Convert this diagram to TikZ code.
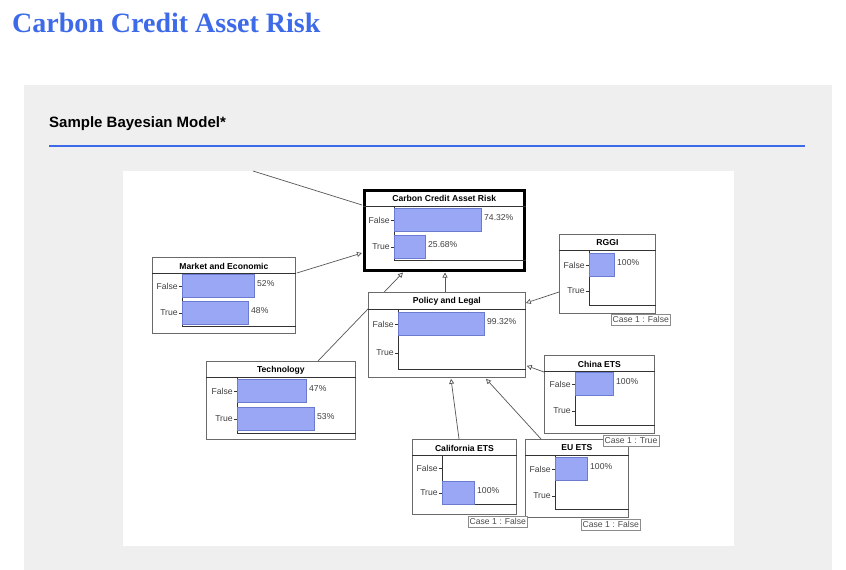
\documentclass[tikz,border=0pt]{standalone}
\usepackage{fontspec}
\setmainfont{Liberation Sans}
\newfontfamily\headfont{Liberation Serif}
\usetikzlibrary{arrows.meta, calc}
\definecolor{headblue}{HTML}{3D6AE8}
\definecolor{panelgray}{HTML}{EFEFEF}
\definecolor{barblue}{HTML}{9AA7F5}
\definecolor{baredge}{HTML}{6B7BD0}
\definecolor{edgegray}{HTML}{555555}
\definecolor{framegray}{HTML}{6A6A6A}
\pgfdeclarelayer{back}
\pgfdeclarelayer{edges}
\pgfsetlayers{back,edges,main}
\tikzstyle{bnbox} = [draw=framegray, fill=white, anchor=north west, inner sep=0pt, line width=0.8pt]
\tikzstyle{bntitle} = [font=\fontsize{8.6}{9}\selectfont\bfseries, inner sep=0pt]
\tikzstyle{inner} = [draw=black!80, line width=0.7pt]
\tikzstyle{statelabel} = [font=\fontsize{8.6}{10}\selectfont, text=black!75, anchor=east, inner sep=1pt]
\tikzstyle{pct} = [font=\fontsize{8.6}{10}\selectfont, text=black!75, anchor=west, inner sep=3pt]
\tikzstyle{bar} = [fill=barblue, draw=baredge, line width=0.6pt]
\tikzstyle{link} = [draw=edgegray, line width=0.7pt, -{Triangle[open, length=5pt, width=5pt, fill=white]}]
\tikzstyle{casebox} = [draw=black!45, fill=white, anchor=north west, inner sep=1.5pt, font=\fontsize{8.6}{10}\selectfont, text=black!70, minimum height=11pt]
% node frame: name, title, title row height, axis offset, bottom line offset
\newcommand{\bnframe}[5]{%
        \node[bntitle] at ($(#1.north west)!0.5!(#1.north east)+(0,#3/2+1)$) {#2};
        \draw[inner] ($(#1.north west)+(0,#3)$) -- ($(#1.north east)+(0,#3)$);
        \draw[inner] ($(#1.north west)+(#4,#3)$) -- ($(#1.north west)+(#4,#5)$) -- ($(#1.north east)+(0,#5)$);
}
% state row: name, axis offset, row offset, label
\newcommand{\bnstate}[4]{%
        \draw[inner] ($(#1.north west)+(#2,#3)$) -- ++(-3,0) node[statelabel] {#4};
}
% belief bar: name, axis offset, row offset, length, percent
\newcommand{\bnbar}[5]{%
        \draw[bar] ($(#1.north west)+(#2,#3-11.5)$) rectangle ++(#4,23);
        \node[pct] at ($(#1.north west)+(#2+#4,#3-2)$) {#5};
}

\begin{document}
\begin{tikzpicture}[x=1pt, y=-1pt]
        \useasboundingbox (0,0) rectangle (846,570);
        \begin{pgfonlayer}{back}
            \fill[panelgray] (24,85) rectangle (832,570);
            \fill[white] (123,171) rectangle (734,546);
        \end{pgfonlayer}
        % Heading
        \node[anchor=base west, inner sep=0pt, text=headblue, font=\headfont\fontsize{28}{30}\selectfont\bfseries] (head) at (12,32) {Carbon Credit Asset Risk};
        \node[anchor=base west, inner sep=0pt, font=\fontsize{15}{18}\selectfont\bfseries] (sub) at (49,127) {Sample Bayesian Model*};
        \draw[headblue, line width=1.2pt] (49,146) -- (805,146);

        % Network nodes
        \node[bnbox, draw=black, line width=2.5pt, minimum width=160pt, minimum height=80pt] (carbon) at (363,189) {};
        \bnframe{carbon}{Carbon Credit Asset Risk}{17}{31}{71}
        \bnstate{carbon}{31}{31}{False}
        \bnstate{carbon}{31}{58}{True}
        \bnbar{carbon}{31}{31}{87}{74.32\%}
        \bnbar{carbon}{31}{58}{31}{25.68\%}

        \node[bnbox, minimum width=143pt, minimum height=76pt] (market) at (152,257) {};
        \bnframe{market}{Market and Economic}{16}{30}{69}
        \bnstate{market}{30}{29}{False}
        \bnstate{market}{30}{56}{True}
        \bnbar{market}{30}{29}{72}{52\%}
        \bnbar{market}{30}{56}{66}{48\%}

        \node[bnbox, minimum width=157pt, minimum height=85pt] (policy) at (368,292) {};
        \bnframe{policy}{Policy and Legal}{17}{30}{77}
        \bnstate{policy}{30}{32}{False}
        \bnstate{policy}{30}{61}{True}
        \bnbar{policy}{30}{32}{86}{99.32\%}

        \node[bnbox, minimum width=96pt, minimum height=79pt] (rggi) at (559,234) {};
        \bnframe{rggi}{RGGI}{16}{30}{71}
        \bnstate{rggi}{30}{31}{False}
        \bnstate{rggi}{30}{57}{True}
        \bnbar{rggi}{30}{31}{25}{100\%}

        \node[bnbox, minimum width=149pt, minimum height=78pt] (tech) at (206,361) {};
        \bnframe{tech}{Technology}{16}{31}{72}
        \bnstate{tech}{31}{30}{False}
        \bnstate{tech}{31}{58}{True}
        \bnbar{tech}{31}{30}{69}{47\%}
        \bnbar{tech}{31}{58}{77}{53\%}

        \node[bnbox, minimum width=110pt, minimum height=78pt] (china) at (544,355) {};
        \bnframe{china}{China ETS}{16}{31}{70}
        \bnstate{china}{31}{29}{False}
        \bnstate{china}{31}{56}{True}
        \bnbar{china}{31}{29}{38}{100\%}

        \node[bnbox, minimum width=104pt, minimum height=75pt] (cal) at (412,439) {};
        \bnframe{cal}{California ETS}{16}{30}{65}
        \bnstate{cal}{30}{29}{False}
        \bnstate{cal}{30}{54}{True}
        \bnbar{cal}{30}{54}{32}{100\%}

        \node[bnbox, minimum width=103pt, minimum height=78pt] (eu) at (525,439) {};
        \bnframe{eu}{EU ETS}{16}{30}{70}
        \bnstate{eu}{30}{30}{False}
        \bnstate{eu}{30}{57}{True}
        \bnbar{eu}{30}{30}{32}{100\%}

        % Evidence tags
        \node[casebox] (rggicase) at ($(rggi.south west)+(52,0)$) {Case 1 : False};
        \node[casebox] (chinacase) at ($(china.south west)+(59,1)$) {Case 1 : True};
        \node[casebox] (calcase) at ($(cal.south west)+(56,1)$) {Case 1 : False};
        \node[casebox] (eucase) at ($(eu.south west)+(56,1)$) {Case 1 : False};

        % Links
        \coordinate (offview) at (253,171);
        \begin{pgfonlayer}{edges}
            \draw[draw=edgegray, line width=0.7pt] (offview) -- ($(carbon.north west)+(-1,16)$);
            \draw[link] ($(market.north east)+(1,16)$) -- ($(carbon.north west)+(-1,64)$);
            \draw[link] ($(tech.north west)+(112,0)$) -- ($(carbon.south west)+(40,1)$);
            \draw[link] ($(policy.north west)+(77,0)$) -- ($(carbon.south west)+(82,1)$);
            \draw[link] ($(rggi.north west)+(0,58)$) -- ($(policy.north east)+(0,11)$);
            \draw[link] ($(china.north west)+(0,17)$) -- ($(policy.south east)+(1,-12)$);
            \draw[link] ($(cal.north west)+(47,0)$) -- ($(policy.south west)+(83,1)$);
            \draw[link] ($(eu.north west)+(16,0)$) -- ($(policy.south west)+(118,1)$);
        \end{pgfonlayer}
\end{tikzpicture}
\end{document}
